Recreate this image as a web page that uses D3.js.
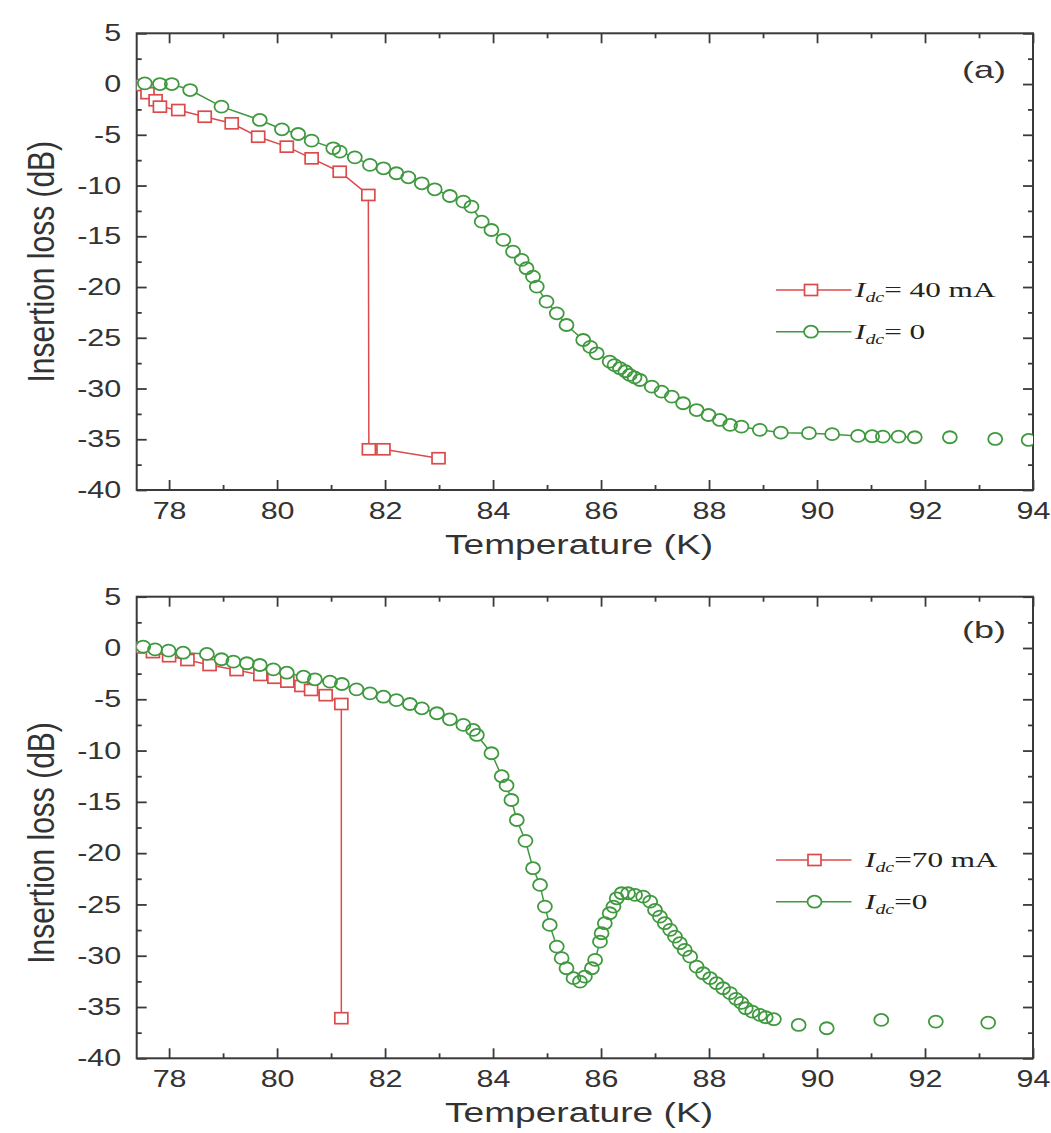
<!DOCTYPE html>
<html>
<head>
<meta charset="utf-8">
<script src="https://cdn.jsdelivr.net/npm/d3@7"></script>
<style>
  body { margin: 0; background: #fff; }
</style>
</head>
<body>
<script>
// ---- data ----
// panel (a): I_dc = 40 mA
const tempA40 = [77.42, 77.6, 77.75, 77.83, 78.17, 78.66, 79.16, 79.65, 80.18, 80.64, 81.16, 81.69, 81.7, 81.97, 82.99];
const lossA40 = [-0.1, -0.9, -1.6, -2.23, -2.56, -3.22, -3.87, -5.19, -6.17, -7.32, -8.64, -10.93, -35.99, -35.99, -36.87];
// panel (a): I_dc = 0
const tempA0 = [77.55, 77.83, 78.05, 78.39, 78.97, 79.68, 80.09, 80.39, 80.64, 81.04, 81.16, 81.44, 81.72, 81.97, 82.21,
  82.43, 82.68, 82.92, 83.2, 83.45, 83.6, 83.79, 83.97, 84.19, 84.37, 84.53, 84.62, 84.74, 84.81, 84.99,
  85.18, 85.36, 85.67, 85.8, 85.92, 86.16, 86.25, 86.35, 86.45, 86.53, 86.62, 86.72, 86.94, 87.12, 87.31,
  87.52, 87.77, 87.99, 88.2, 88.39, 88.6, 88.94, 89.33, 89.85, 90.28, 90.76, 91.02, 91.22, 91.51, 91.81,
  92.46, 93.3, 93.92];
const lossA0 = [0.07, 0.0, 0.0, -0.59, -2.23, -3.54, -4.46, -4.92, -5.58, -6.33, -6.66, -7.22, -7.97, -8.3, -8.79,
  -9.19, -9.78, -10.37, -11.03, -11.59, -12.08, -13.56, -14.38, -15.36, -16.51, -17.33, -18.15, -18.98, -19.96, -21.44,
  -22.59, -23.74, -25.22, -25.9, -26.53, -27.35, -27.7, -28.0, -28.3, -28.66, -28.9, -29.16, -29.82, -30.31, -30.8,
  -31.45, -32.12, -32.61, -33.1, -33.59, -33.76, -34.07, -34.35, -34.4, -34.5, -34.67, -34.7, -34.74, -34.74, -34.8,
  -34.8, -34.97, -35.07];
// panel (b): I_dc = 70 mA
const tempB70 = [77.42, 77.7, 78.0, 78.34, 78.75, 79.25, 79.69, 79.95, 80.19, 80.45, 80.63, 80.9, 81.19, 81.19];
const lossB70 = [0.05, -0.4, -0.8, -1.17, -1.66, -2.15, -2.63, -2.9, -3.28, -3.7, -4.09, -4.6, -5.46, -36.09];
// panel (b): I_dc = 0
const tempB0 = [77.52, 77.74, 77.99, 78.26, 78.7, 78.97, 79.19, 79.44, 79.68, 79.93, 80.18, 80.49, 80.7, 80.98, 81.2,
  81.47, 81.72, 81.97, 82.21, 82.46, 82.68, 82.96, 83.2, 83.45, 83.63, 83.7, 83.97, 84.16, 84.25, 84.34,
  84.44, 84.6, 84.74, 84.87, 84.96, 85.05, 85.18, 85.27, 85.36, 85.49, 85.61, 85.7, 85.83, 85.89, 85.98,
  86.01, 86.07, 86.16, 86.23, 86.29, 86.38, 86.5, 86.63, 86.78, 86.91, 87.0, 87.09, 87.18, 87.28, 87.37,
  87.46, 87.55, 87.65, 87.77, 87.89, 88.02, 88.14, 88.26, 88.39, 88.5, 88.6, 88.68, 88.8, 88.94, 89.05,
  89.2, 89.66, 90.18, 91.19, 92.2, 93.17];
const lossB0 = [0.13, -0.13, -0.26, -0.46, -0.58, -1.1, -1.33, -1.49, -1.66, -2.08, -2.41, -2.8, -3.05, -3.28, -3.51,
  -4.03, -4.42, -4.75, -5.08, -5.46, -5.88, -6.36, -6.95, -7.5, -7.99, -8.48, -10.26, -12.5, -13.4, -14.82,
  -16.77, -18.8, -21.47, -23.1, -25.21, -27.0, -29.11, -30.24, -31.22, -32.19, -32.52, -32.04, -31.22, -30.41, -28.63,
  -27.81, -26.83, -25.86, -25.21, -24.4, -23.91, -23.91, -24.07, -24.24, -24.73, -25.54, -26.19, -26.83, -27.48, -28.14,
  -28.78, -29.43, -30.09, -31.06, -31.71, -32.19, -32.68, -33.17, -33.65, -34.2, -34.6, -35.12, -35.45, -35.77, -36.0,
  -36.19, -36.75, -37.07, -36.26, -36.42, -36.52];

const xTicksMajor = [78, 80, 82, 84, 86, 88, 90, 92, 94];
const xTicksMinor = [79, 81, 83, 85, 87, 89, 91, 93];
const yTicksMajor = [5, 0, -5, -10, -15, -20, -25, -30, -35, -40];
const yTicksMinor = [2.5, -2.5, -7.5, -12.5, -17.5, -22.5, -27.5, -32.5, -37.5];

const legendA = ["= 40 mA", "= 0"];
const legendB = ["=70 mA", "=0"];

// ---- layout ----
const width = 1051;
const height = 1133;
const axisColor = "#3a3a3a";
const textColor = "#333";
const redColor = "#dc4b4b";
const greenColor = "#3f993f";
const sansFont = "'Liberation Sans', Arial, sans-serif";
const serifFont = "'Liberation Serif', 'Times New Roman', serif";
const tickStretch = 1.27;

const svg = d3.select("body").append("svg")
    .attr("width", width)
    .attr("height", height);

const xScale = d3.scaleLinear()
    .domain([77.4, 94])
    .range([136.7, 1033]);

const panels = [
    { id: "a", top: 33.3, bottom: 490, tag: "(a)", tagY: 78,
      redX: tempA40, redY: lossA40, greenX: tempA0, greenY: lossA0,
      legend: legendA, legendY: [290, 331.7], markX: 811, textX: 855,
      lineEnd: 91.85, yTitleY: 261.7, xTitleY: 553.7 },
    { id: "b", top: 596.7, bottom: 1058.3, tag: "(b)", tagY: 638,
      redX: tempB70, redY: lossB70, greenX: tempB0, greenY: lossB0,
      legend: legendB, legendY: [860, 901.7], markX: 814.5, textX: 865,
      lineEnd: 89.25, yTitleY: 843, xTitleY: 1122 }
];

function styleAxis(g, withText) {
    g.select(".domain").remove();
    g.selectAll(".tick line")
        .attr("stroke", axisColor)
        .attr("stroke-width", 1.8);
    g.selectAll(".tick text")
        .attr("font-family", sansFont)
        .attr("font-size", 24)
        .attr("fill", textColor);
    if (!withText) g.selectAll(".tick text").remove();
}

panels.forEach(p => {
    const yScale = d3.scaleLinear()
        .domain([-40, 5])
        .range([p.bottom, p.top]);

    const g = svg.append("g").attr("class", "panel-" + p.id);
    const [x0, x1] = xScale.range();

    // clip for the data
    svg.append("defs").append("clipPath")
        .attr("id", "clip-" + p.id)
        .append("rect")
        .attr("x", x0).attr("y", p.top)
        .attr("width", x1 - x0).attr("height", p.bottom - p.top);

    // axes: major + minor on all four sides, ticks inward
    const fmt = d => String(d);
    g.append("g")
        .attr("transform", `translate(0,${p.bottom})`)
        .call(d3.axisBottom(xScale).tickValues(xTicksMajor).tickSizeInner(-10).tickSizeOuter(0).tickPadding(12).tickFormat(fmt))
        .call(a => styleAxis(a, true))
        .call(a => a.selectAll(".tick text").attr("transform", `scale(${tickStretch},1)`));
    g.append("g")
        .attr("transform", `translate(0,${p.bottom})`)
        .call(d3.axisBottom(xScale).tickValues(xTicksMinor).tickSizeInner(-5).tickSizeOuter(0))
        .call(a => styleAxis(a, false));
    g.append("g")
        .attr("transform", `translate(0,${p.top})`)
        .call(d3.axisTop(xScale).tickValues(xTicksMajor).tickSizeInner(-10).tickSizeOuter(0))
        .call(a => styleAxis(a, false));
    g.append("g")
        .attr("transform", `translate(0,${p.top})`)
        .call(d3.axisTop(xScale).tickValues(xTicksMinor).tickSizeInner(-5).tickSizeOuter(0))
        .call(a => styleAxis(a, false));

    g.append("g")
        .attr("transform", `translate(${x0},0)`)
        .call(d3.axisLeft(yScale).tickValues(yTicksMajor).tickSizeInner(-10).tickSizeOuter(0).tickPadding(15.5).tickFormat(fmt))
        .call(a => styleAxis(a, true))
        .call(a => a.selectAll(".tick text").attr("x", -15.5 / tickStretch).attr("transform", `scale(${tickStretch},1)`));
    g.append("g")
        .attr("transform", `translate(${x0},0)`)
        .call(d3.axisLeft(yScale).tickValues(yTicksMinor).tickSizeInner(-5).tickSizeOuter(0))
        .call(a => styleAxis(a, false));
    g.append("g")
        .attr("transform", `translate(${x1},0)`)
        .call(d3.axisRight(yScale).tickValues(yTicksMajor).tickSizeInner(-10).tickSizeOuter(0))
        .call(a => styleAxis(a, false));
    g.append("g")
        .attr("transform", `translate(${x1},0)`)
        .call(d3.axisRight(yScale).tickValues(yTicksMinor).tickSizeInner(-5).tickSizeOuter(0))
        .call(a => styleAxis(a, false));

    // frame
    g.append("rect")
        .attr("x", x0).attr("y", p.top)
        .attr("width", x1 - x0).attr("height", p.bottom - p.top)
        .attr("fill", "none")
        .attr("stroke", axisColor)
        .attr("stroke-width", 2);

    // data
    const red = p.redX.map((t, i) => ({ t: t, v: p.redY[i] }));
    const green = p.greenX.map((t, i) => ({ t: t, v: p.greenY[i] }));

    const line = d3.line()
        .x(d => xScale(d.t))
        .y(d => yScale(d.v));

    const plot = g.append("g").attr("clip-path", `url(#clip-${p.id})`);

    plot.append("path")
        .attr("d", line(red))
        .attr("fill", "none")
        .attr("stroke", redColor)
        .attr("stroke-width", 1.5);
    plot.selectAll(".sq")
        .data(red)
        .enter()
        .append("rect")
        .attr("class", "sq")
        .attr("x", d => xScale(d.t) - 6.5)
        .attr("y", d => yScale(d.v) - 5.5)
        .attr("width", 13)
        .attr("height", 11)
        .attr("fill", "#fff")
        .attr("stroke", redColor)
        .attr("stroke-width", 1.7);

    plot.append("path")
        .attr("d", line(green.filter(d => d.t <= p.lineEnd)))
        .attr("fill", "none")
        .attr("stroke", greenColor)
        .attr("stroke-width", 1.5);
    plot.selectAll(".disc")
        .data(green)
        .enter()
        .append("ellipse")
        .attr("class", "disc")
        .attr("cx", d => xScale(d.t))
        .attr("cy", d => yScale(d.v))
        .attr("rx", 7)
        .attr("ry", 6)
        .attr("fill", "#fff");
    plot.selectAll(".circ")
        .data(green)
        .enter()
        .append("ellipse")
        .attr("class", "circ")
        .attr("cx", d => xScale(d.t))
        .attr("cy", d => yScale(d.v))
        .attr("rx", 7)
        .attr("ry", 6)
        .attr("fill", "none")
        .attr("stroke", greenColor)
        .attr("stroke-width", 1.8);

    // panel tag
    g.append("text")
        .attr("x", 962)
        .attr("y", p.tagY)
        .attr("font-family", sansFont)
        .attr("font-size", 24)
        .attr("fill", textColor)
        .attr("textLength", 44)
        .attr("lengthAdjust", "spacingAndGlyphs")
        .text(p.tag);

    // legend
    const legendColors = [redColor, greenColor];
    p.legend.forEach((lab, i) => {
        const ly = p.legendY[i];
        g.append("line")
            .attr("x1", 776).attr("x2", 851.5)
            .attr("y1", ly).attr("y2", ly)
            .attr("stroke", legendColors[i])
            .attr("stroke-width", 1.5);
        if (i === 0) {
            g.append("rect")
                .attr("x", p.markX - 6.5).attr("y", ly - 5.5)
                .attr("width", 13).attr("height", 11)
                .attr("fill", "#fff")
                .attr("stroke", redColor)
                .attr("stroke-width", 1.7);
        } else {
            g.append("ellipse")
                .attr("cx", p.markX).attr("cy", ly)
                .attr("rx", 7).attr("ry", 6)
                .attr("fill", "#fff")
                .attr("stroke", greenColor)
                .attr("stroke-width", 1.8);
        }
        const t = g.append("text")
            .attr("transform", `translate(${p.textX},${ly + 7}) scale(1.42,1)`)
            .attr("font-family", serifFont)
            .attr("font-size", 22)
            .attr("fill", "#222");
        t.append("tspan").attr("font-style", "italic").text("I");
        t.append("tspan").attr("font-style", "italic").attr("font-size", 14).attr("dy", 5).text("dc");
        t.append("tspan").attr("dy", -5).text(lab);
    });

    // axis titles
    g.append("text")
        .attr("x", 579)
        .attr("y", p.xTitleY)
        .attr("text-anchor", "middle")
        .attr("font-family", sansFont)
        .attr("font-size", 27)
        .attr("fill", textColor)
        .attr("textLength", 268)
        .attr("lengthAdjust", "spacingAndGlyphs")
        .text("Temperature (K)");

    g.append("text")
        .attr("transform", `translate(54,${p.yTitleY}) scale(1.25,1) rotate(-90)`)
        .attr("text-anchor", "middle")
        .attr("font-family", sansFont)
        .attr("font-size", 30)
        .attr("fill", textColor)
        .text("Insertion loss (dB)");
});
</script>
</body>
</html>
